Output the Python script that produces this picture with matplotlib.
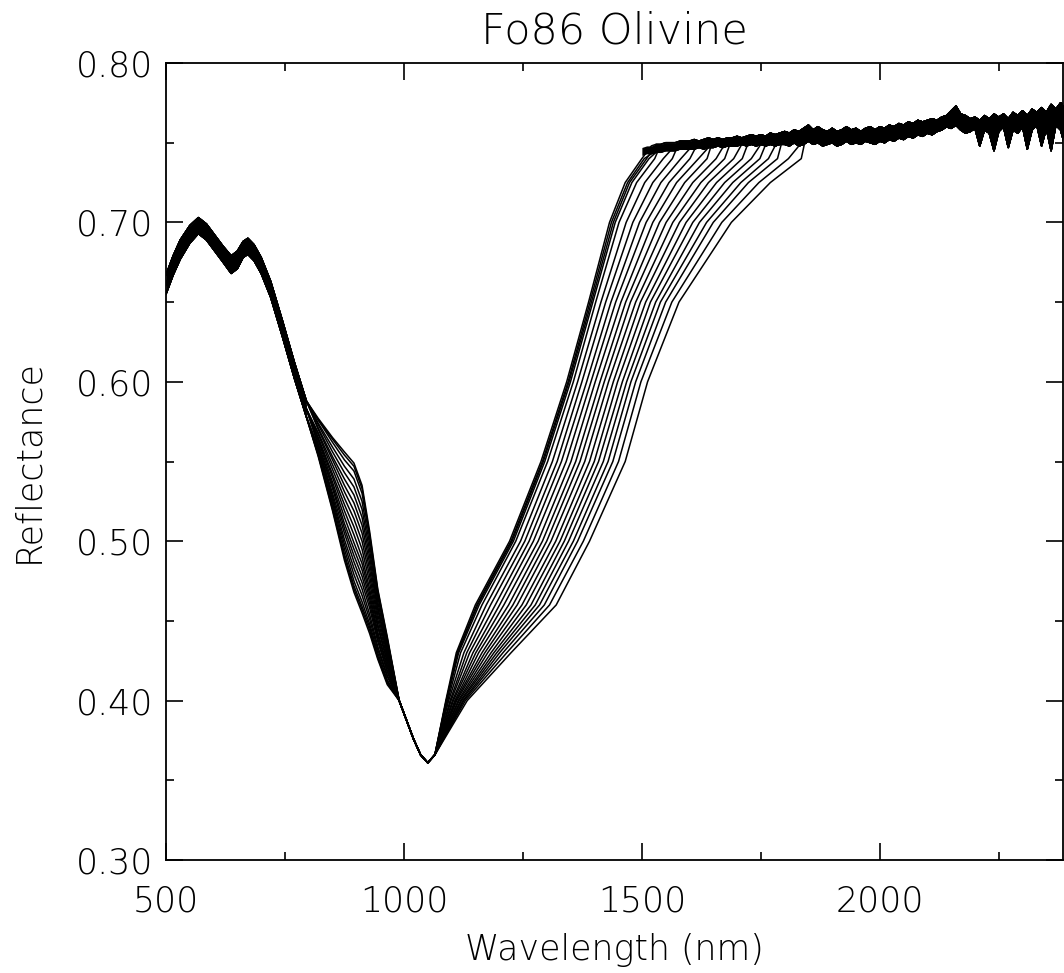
import numpy as np
import matplotlib.pyplot as plt
from matplotlib.ticker import MultipleLocator, FormatStrFormatter

plt.rcParams['font.family'] = ['DejaVu Sans']
plt.rcParams['font.weight'] = 'light'
plt.rcParams['axes.titleweight'] = 'light'
plt.rcParams['axes.labelweight'] = 'light'

# --- data (Fo86 olivine, a series of ~21 spectra) ---
# visible region, shared by all spectra (three tracks = spread of the band)
wl_left = [500, 515, 530, 550, 568, 585, 600, 620, 637, 650, 662, 672, 685, 700, 720, 745, 770, 795]
left_hi = [0.667, 0.679, 0.689, 0.698, 0.703, 0.699, 0.693, 0.685, 0.679, 0.682, 0.688, 0.690, 0.686, 0.678, 0.663, 0.638, 0.612, 0.588]
left_mid = [0.661, 0.673, 0.683, 0.692, 0.698, 0.694, 0.688, 0.680, 0.673, 0.677, 0.683, 0.685, 0.681, 0.673, 0.658, 0.633, 0.607, 0.583]
left_lo = [0.655, 0.667, 0.677, 0.687, 0.693, 0.689, 0.683, 0.675, 0.668, 0.671, 0.678, 0.680, 0.676, 0.668, 0.653, 0.628, 0.602, 0.578]

# the 850-950 nm shoulder, one row per spectrum
wl_shoulder = [820, 850, 875, 895, 912, 928, 945, 965]
shoulder = [
    [0.577, 0.565, 0.556, 0.549, 0.535, 0.506, 0.470, 0.440],
    [0.576, 0.564, 0.554, 0.547, 0.533, 0.504, 0.469, 0.439],
    [0.576, 0.562, 0.551, 0.544, 0.530, 0.502, 0.467, 0.438],
    [0.574, 0.559, 0.547, 0.539, 0.525, 0.498, 0.465, 0.436],
    [0.573, 0.556, 0.543, 0.534, 0.520, 0.494, 0.462, 0.434],
    [0.571, 0.553, 0.539, 0.529, 0.515, 0.490, 0.459, 0.432],
    [0.570, 0.551, 0.535, 0.524, 0.510, 0.486, 0.457, 0.431],
    [0.568, 0.548, 0.531, 0.519, 0.505, 0.482, 0.454, 0.429],
    [0.567, 0.545, 0.527, 0.514, 0.500, 0.478, 0.451, 0.427],
    [0.565, 0.542, 0.523, 0.509, 0.495, 0.474, 0.448, 0.425],
    [0.564, 0.540, 0.519, 0.504, 0.490, 0.470, 0.446, 0.424],
    [0.563, 0.537, 0.515, 0.499, 0.486, 0.467, 0.443, 0.422],
    [0.561, 0.535, 0.511, 0.495, 0.482, 0.464, 0.441, 0.421],
    [0.560, 0.533, 0.508, 0.491, 0.478, 0.461, 0.439, 0.419],
    [0.559, 0.530, 0.505, 0.487, 0.474, 0.458, 0.437, 0.418],
    [0.558, 0.528, 0.501, 0.483, 0.470, 0.454, 0.434, 0.416],
    [0.557, 0.526, 0.498, 0.479, 0.466, 0.451, 0.432, 0.415],
    [0.555, 0.524, 0.495, 0.475, 0.462, 0.448, 0.430, 0.413],
    [0.554, 0.522, 0.492, 0.472, 0.459, 0.446, 0.428, 0.412],
    [0.554, 0.520, 0.490, 0.470, 0.457, 0.444, 0.427, 0.411],
    [0.553, 0.519, 0.488, 0.468, 0.455, 0.442, 0.426, 0.410],
]

# band minimum, shared
wl_min = [990, 1005, 1020, 1035, 1050, 1065]
refl_min = [0.400, 0.388, 0.376, 0.366, 0.361, 0.366]

# long-wavelength wing: wavelength where each spectrum crosses these levels
rise_levels = [0.40, 0.43, 0.46, 0.50, 0.55, 0.60, 0.65, 0.70, 0.725, 0.74]
rise_wl = [
    [1088, 1110, 1150, 1222, 1288, 1342, 1388, 1432, 1465, 1500],
    [1089, 1112, 1153, 1225, 1291, 1345, 1391, 1436, 1470, 1505],
    [1089, 1113, 1155, 1227, 1293, 1347, 1394, 1440, 1474, 1510],
    [1090, 1115, 1158, 1230, 1296, 1350, 1397, 1444, 1479, 1515],
    [1092, 1119, 1164, 1235, 1302, 1356, 1403, 1452, 1489, 1527],
    [1094, 1126, 1173, 1245, 1312, 1365, 1414, 1467, 1506, 1545],
    [1097, 1132, 1182, 1254, 1322, 1374, 1424, 1481, 1523, 1564],
    [1099, 1138, 1192, 1263, 1331, 1384, 1435, 1495, 1540, 1582],
    [1102, 1145, 1201, 1272, 1341, 1393, 1445, 1509, 1557, 1601],
    [1104, 1151, 1210, 1282, 1351, 1402, 1456, 1523, 1573, 1619],
    [1107, 1157, 1220, 1291, 1361, 1412, 1466, 1537, 1590, 1637],
    [1109, 1164, 1229, 1300, 1370, 1421, 1476, 1551, 1607, 1656],
    [1111, 1170, 1238, 1309, 1380, 1430, 1487, 1565, 1624, 1674],
    [1114, 1176, 1248, 1319, 1390, 1440, 1497, 1579, 1640, 1693],
    [1116, 1183, 1257, 1328, 1400, 1449, 1508, 1593, 1657, 1711],
    [1119, 1189, 1267, 1337, 1409, 1459, 1518, 1607, 1674, 1730],
    [1121, 1195, 1276, 1346, 1419, 1468, 1529, 1621, 1691, 1748],
    [1124, 1201, 1285, 1356, 1429, 1477, 1539, 1636, 1708, 1766],
    [1126, 1208, 1295, 1365, 1439, 1487, 1550, 1650, 1724, 1785],
    [1129, 1216, 1306, 1377, 1451, 1498, 1563, 1668, 1746, 1808],
    [1133, 1225, 1320, 1390, 1465, 1512, 1578, 1688, 1770, 1835],
]

# noisy plateau, two tracks (upper / lower edge of the bundle)
plat_wl = np.arange(1500, 2391, 10)
plat_hi = [0.747, 0.748, 0.748, 0.749, 0.749, 0.750, 0.750, 0.750, 0.751, 0.751,
           0.751, 0.752, 0.751, 0.752, 0.753, 0.752, 0.753, 0.752, 0.753, 0.753,
           0.754, 0.753, 0.754, 0.755, 0.754, 0.755, 0.754, 0.756, 0.755, 0.756,
           0.757, 0.756, 0.758, 0.757, 0.759, 0.761, 0.758, 0.760, 0.758, 0.757,
           0.759, 0.757, 0.758, 0.760, 0.758, 0.759, 0.757, 0.759, 0.760, 0.758,
           0.760, 0.759, 0.761, 0.760, 0.762, 0.761, 0.763, 0.762, 0.764, 0.763,
           0.764, 0.765, 0.764, 0.766, 0.767, 0.770, 0.773, 0.768, 0.767, 0.765,
           0.766, 0.764, 0.767, 0.765, 0.768, 0.766, 0.768, 0.765, 0.769, 0.767,
           0.770, 0.767, 0.771, 0.769, 0.772, 0.769, 0.774, 0.771, 0.775, 0.773]
plat_lo = [0.742, 0.743, 0.743, 0.744, 0.744, 0.745, 0.745, 0.745, 0.746, 0.746,
           0.746, 0.746, 0.747, 0.746, 0.747, 0.747, 0.748, 0.747, 0.748, 0.748,
           0.748, 0.749, 0.748, 0.749, 0.748, 0.749, 0.748, 0.749, 0.748, 0.749,
           0.749, 0.748, 0.750, 0.748, 0.749, 0.751, 0.749, 0.750, 0.748, 0.749,
           0.750, 0.748, 0.749, 0.751, 0.749, 0.750, 0.749, 0.751, 0.750, 0.749,
           0.751, 0.750, 0.752, 0.751, 0.753, 0.752, 0.754, 0.753, 0.755, 0.754,
           0.756, 0.755, 0.757, 0.758, 0.760, 0.759, 0.761, 0.758, 0.756, 0.757,
           0.759, 0.748, 0.758, 0.756, 0.745, 0.757, 0.760, 0.747, 0.758, 0.756,
           0.760, 0.746, 0.758, 0.761, 0.748, 0.759, 0.745, 0.761, 0.758, 0.747]

fig = plt.figure(figsize=(10.64, 9.73), dpi=100)
ax = fig.add_axes([166/1064, 113/973, 897/1064, 797/973])

# dense overlap of the spectra
ax.fill_between(wl_left, left_lo, left_hi, color='black', lw=0)
ax.fill_between(plat_wl, plat_lo, plat_hi, color='black', lw=0)

n = len(rise_wl)
for k in range(n):
    if k < 7:
        left = left_hi
    elif k < 14:
        left = left_mid
    else:
        left = left_lo
    plat = plat_hi if k % 2 == 0 else plat_lo
    keep = plat_wl > rise_wl[k][-1] + 12
    x = np.concatenate([wl_left, wl_shoulder, wl_min, rise_wl[k], plat_wl[keep]])
    y = np.concatenate([left, shoulder[k], refl_min, rise_levels, np.array(plat)[keep]])
    ax.plot(x, y, color='black', lw=1.1)

ax.set_xlim(500, 2385)
ax.set_ylim(0.30, 0.80)
ax.xaxis.set_major_locator(MultipleLocator(500))
ax.xaxis.set_minor_locator(MultipleLocator(250))
ax.yaxis.set_major_locator(MultipleLocator(0.1))
ax.yaxis.set_minor_locator(MultipleLocator(0.05))
ax.yaxis.set_major_formatter(FormatStrFormatter('%.2f'))
ax.tick_params(which='both', direction='in', top=True, right=True, width=1.2, colors='black')
ax.tick_params(which='major', length=12, labelsize=25)
ax.tick_params(axis='x', which='major', pad=18)
ax.tick_params(axis='y', which='major', pad=9)
ax.tick_params(which='minor', length=6)
for s in ax.spines.values():
    s.set_linewidth(1.3)

ax.set_xlabel('Wavelength (nm)', fontsize=25, labelpad=10)
ax.set_ylabel('Reflectance', fontsize=25, labelpad=22)
ax.set_title('Fo86 Olivine', fontsize=31, pad=14)

fig.savefig('out.png', dpi=100)
